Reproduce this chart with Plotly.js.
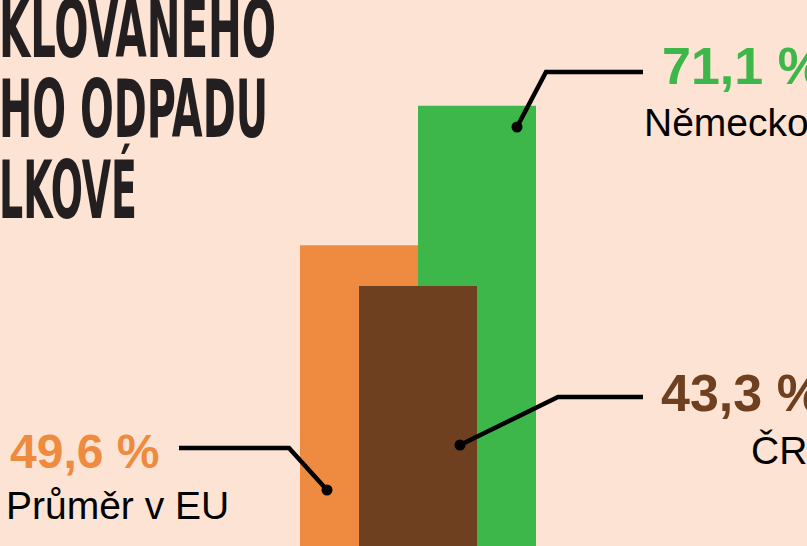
<!DOCTYPE html>
<html>
<head>
<meta charset="utf-8">
<script src="https://cdn.plot.ly/plotly-3.0.1.min.js"></script>
<style>
  html, body { margin: 0; padding: 0; background: #fde3d3; overflow: hidden; }
  #chart { width: 807px; height: 546px; }
</style>
</head>
<body>
<div id="chart"></div>
<script>
// ---- data ----
const categories = ["Průměr v EU", "Německo", "ČR"];
const values = [49.6, 71.1, 43.3];
const titleLines = ["KLOVANÉHO", "HO ODPADU", "LKOVÉ"];

// ---- styling / layout ----
const colors = ["#ef8b40", "#3db64a", "#6e401f"];
const slots = [0, 2, 1];          // horizontal slot of each bar (overlapping bars)
const W = 807, H = 546;
const BG = "#fde3d3";

const px = x => x / W;            // pixel -> paper
const py = y => 1 - y / H;

const fmt = v => v.toFixed(1).replace(".", ",") + " %";

const traces = categories.map((c, i) => ({
  type: "bar",
  name: c,
  x: [slots[i]],
  y: [values[i]],
  width: 2,
  marker: { color: colors[i], opacity: 1, line: { width: 0 } },
  hoverinfo: "skip"
}));

// leader lines: [points...], dot at first point
const leaders = [
  { pts: [[327, 490], [289, 448], [179, 448]] },   // EU
  { pts: [[517, 127], [546, 72], [643, 72]] },     // Německo
  { pts: [[460, 445], [558, 397], [643, 397]] }    // ČR
];
const shapes = [];
leaders.forEach(l => {
  const d = l.pts.map((p, k) => (k ? "L" : "M") + px(p[0]) + "," + py(p[1])).join(" ");
  shapes.push({ type: "path", xref: "paper", yref: "paper", path: d,
    line: { color: "#000", width: 4.5 } });
  const [cx, cy] = l.pts[0], r = 5.5;
  shapes.push({ type: "circle", xref: "paper", yref: "paper",
    x0: px(cx - r), x1: px(cx + r), y0: py(cy + r), y1: py(cy - r),
    fillcolor: "#000", line: { width: 0 } });
});

const sans = "Liberation Sans, Arial, Helvetica, sans-serif";
const ann = (text, x, y, size, color, weight) => ({
  xref: "paper", yref: "paper", x: px(x), y: py(y),
  xanchor: "left", yanchor: "middle", showarrow: false,
  borderpad: 0, text: text,
  font: { family: sans, size: size, color: color, weight: weight }
});

const annotations = [
  ann(fmt(values[0]), 9, 451, 48, colors[0], 700),
  ann(categories[0], 5, 505, 39, "#000", 400),
  ann(fmt(values[1]), 661, 66, 52, colors[1], 700),
  ann(categories[1], 643, 123, 39, "#000", 400),
  ann(fmt(values[2]), 660, 392.5, 52, colors[2], 700),
  ann(categories[2], 750, 450, 39, "#000", 400)
];
const titleCenters = [29, 109.5, 189.5];
const titleRight = [276, 268, 137];
const titleStart = annotations.length;
titleLines.forEach((t, i) => {
  annotations.push({
    xref: "paper", yref: "paper", x: 0, y: py(titleCenters[i]),
    xanchor: "left", yanchor: "middle", showarrow: false, borderpad: 0,
    text: t,
    font: { family: "Liberation Sans Narrow, DejaVu Sans Condensed, Liberation Sans, sans-serif",
            size: 80, color: "#231f20", weight: 700 }
  });
});

const layout = {
  width: W, height: H,
  margin: { l: 0, r: 0, t: 0, b: 0, pad: 0 },
  paper_bgcolor: BG, plot_bgcolor: BG,
  barmode: "overlay",
  showlegend: false,
  xaxis: { range: [-359 / 59, (W - 359) / 59], visible: false, fixedrange: true },
  yaxis: { range: [3.21, 87.4], visible: false, fixedrange: true },
  shapes: shapes,
  annotations: annotations
};

Plotly.newPlot("chart", traces, layout, { staticPlot: true, displayModeBar: false })
  .then(gd => {
    // condense the headline to the poster's narrow display face
    const root = gd.getBoundingClientRect();
    titleLines.forEach((t, i) => {
      const el = gd.querySelector('.annotation[data-index="' + (titleStart + i) + '"] text.annotation-text');
      if (!el) return;
      const bb = el.getBBox();
      const rect = el.getBoundingClientRect();
      const offset = rect.left - root.left - bb.x;
      const targetLeft = -1 - offset;
      const s = (titleRight[i] + 1) / bb.width;
      el.setAttribute("transform",
        "translate(" + targetLeft + ",0) scale(" + s + ",1) translate(" + (-bb.x) + ",0)");
    });
  });
</script>
</body>
</html>
